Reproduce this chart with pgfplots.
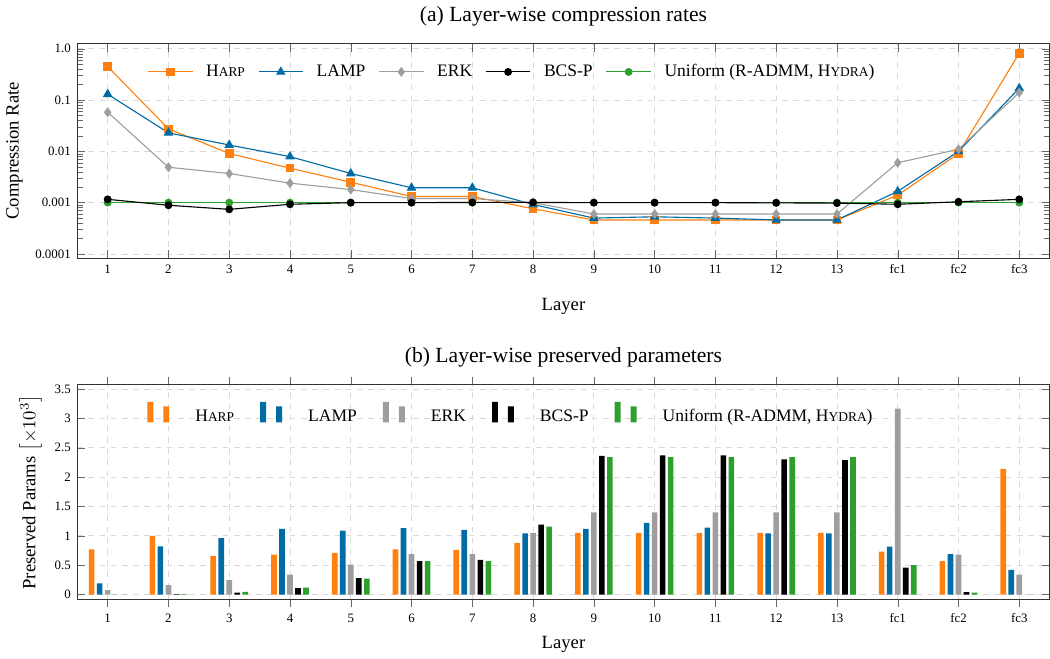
\documentclass[border=0pt]{standalone}
\usepackage{fontspec}
\setmainfont{Liberation Serif}
\usepackage{pgfplots}
\pgfplotsset{compat=1.18}
\definecolor{cOr}{HTML}{FF800E}
\definecolor{cBl}{HTML}{006BA4}
\definecolor{cGr}{HTML}{9E9E9E}
\definecolor{cGn}{HTML}{2CA02C}
\newcommand{\fsc}[2]{#1{\fontsize{7.2}{8}\selectfont #2}}

\pgfplotsset{
  common/.style={
    scale only axis, width=521.5pt, height=115pt,
    xmin=0.5, xmax=16.5,
    xtick={1,...,16},
    xticklabels={1,2,3,4,5,6,7,8,9,10,11,12,13,fc1,fc2,fc3},
    grid=major,
    major grid style={dashed, gray!30},
    axis line style={black!80},
    tick style={black!60},
    /pgf/number format/assume math mode=true,
    tick label style={font=\fontsize{6.9}{8}\selectfont},
    label style={font=\fontsize{10}{12}\selectfont},
    title style={font=\fontsize{11.6}{13}\selectfont},
    xlabel={Layer},
    legend style={draw=none, fill=none, font=\fontsize{9.4}{11}\selectfont},
  }
}

\begin{document}
\begin{tikzpicture}
\begin{axis}[common,
  title={(a) Layer-wise compression rates},
  xlabel style={yshift=-6pt},
  ymode=log, ymin=8.3e-5, ymax=1.26,
  ytick={1e-4,1e-3,1e-2,1e-1,1},
  yticklabels={0.0001,0.001,0.01,0.1,1.0},
  ylabel={Compression Rate},
  legend columns=5,
  legend style={at={(0.066,0.94)}, anchor=north west,
    /tikz/every odd column/.append style={column sep=5pt},
    /tikz/every even column/.append style={column sep=5pt}},
  legend image code/.code={\draw[mark repeat=2,mark phase=2,#1] plot coordinates {(0cm,0cm) (0.42cm,0cm) (0.84cm,0cm)};},
]
\addplot[cOr, line width=0.6pt, mark=square*, mark size=2pt] coordinates {
 (1,0.45) (2,0.0275) (3,0.0091) (4,0.0047) (5,0.0025) (6,0.00132) (7,0.00132) (8,0.00076)
 (9,0.00046) (10,0.00046) (11,0.00046) (12,0.00046) (13,0.00046) (14,0.0014) (15,0.0091) (16,0.82)};
\addlegendentry{\fsc{H}{ARP}}
\addplot[cBl, line width=0.6pt, mark=triangle*, mark size=2.4pt] coordinates {
 (1,0.13) (2,0.023) (3,0.0133) (4,0.0079) (5,0.0037) (6,0.00195) (7,0.00195) (8,0.00092)
 (9,0.0005) (10,0.00053) (11,0.0005) (12,0.00046) (13,0.00046) (14,0.00166) (15,0.0100) (16,0.17)};
\addlegendentry{LAMP}
\addplot[cGr, line width=0.6pt, mark=diamond*, mark size=2.2pt] coordinates {
 (1,0.058) (2,0.0049) (3,0.0037) (4,0.0024) (5,0.0018) (6,0.0012) (7,0.0012) (8,0.001)
 (9,0.0006) (10,0.0006) (11,0.0006) (12,0.0006) (13,0.0006) (14,0.006) (15,0.011) (16,0.14)};
\addlegendentry{ERK}
\addplot[cGn, line width=0.6pt, mark=*, mark size=1.8pt, forget plot] coordinates {
 (1,0.001) (2,0.001) (3,0.001) (4,0.001) (5,0.001) (6,0.001) (7,0.001) (8,0.001)
 (9,0.001) (10,0.001) (11,0.001) (12,0.001) (13,0.001) (14,0.001) (15,0.001) (16,0.001)};
\addplot[black, line width=0.6pt, mark=*, mark size=1.8pt] coordinates {
 (1,0.00116) (2,0.00089) (3,0.00074) (4,0.00093) (5,0.001) (6,0.001) (7,0.00101) (8,0.00101)
 (9,0.001) (10,0.001) (11,0.001) (12,0.00099) (13,0.00098) (14,0.00093) (15,0.00104) (16,0.00116)};
\addlegendentry{BCS-P}
\addlegendimage{cGn, line width=0.6pt, mark=*, mark size=1.8pt}
\addlegendentry{Uniform (R-ADMM, \fsc{H}{YDRA})}
\end{axis}

\begin{axis}[common, at={(0pt,-183pt)},
  title={(b) Layer-wise preserved parameters},
  ymin=-0.08, ymax=3.57,
  ytick={0,0.5,...,3.5},
  yticklabels={0,0.5,1,1.5,2,2.5,3,3.5},
  ylabel={Preserved Params $\left[\times 10^{3}\right]$},
  ybar=1.3pt, bar width=3pt,
  legend columns=5,
  legend style={at={(0.066,0.94)}, anchor=north west,
    /tikz/every odd column/.append style={column sep=12pt},
    /tikz/every even column/.append style={column sep=12pt}},
  legend image code/.code={\draw[#1,draw=none,/tikz/.cd,bar width=3.2pt,yshift=-0.3em,bar shift=0pt] plot coordinates {(0pt,1.1em) (8.5pt,0.85em)};},
]
\addplot[fill=cOr, draw=none] coordinates {
 (1,0.77) (2,1.0) (3,0.66) (4,0.68) (5,0.71) (6,0.77) (7,0.76) (8,0.88)
 (9,1.05) (10,1.05) (11,1.05) (12,1.05) (13,1.05) (14,0.73) (15,0.57) (16,2.14)};
\addlegendentry{\fsc{H}{ARP}}
\addplot[fill=cBl, draw=none] coordinates {
 (1,0.19) (2,0.82) (3,0.96) (4,1.12) (5,1.09) (6,1.13) (7,1.10) (8,1.04)
 (9,1.12) (10,1.22) (11,1.14) (12,1.04) (13,1.04) (14,0.815) (15,0.69) (16,0.42)};
\addlegendentry{LAMP}
\addplot[fill=cGr, draw=none] coordinates {
 (1,0.074) (2,0.16) (3,0.25) (4,0.34) (5,0.51) (6,0.69) (7,0.69) (8,1.05)
 (9,1.40) (10,1.40) (11,1.40) (12,1.40) (13,1.40) (14,3.165) (15,0.68) (16,0.34)};
\addlegendentry{ERK}
\addplot[fill=black, draw=none] coordinates {
 (1,0) (2,0.01) (3,0.034) (4,0.11) (5,0.28) (6,0.57) (7,0.59) (8,1.19)
 (9,2.36) (10,2.37) (11,2.37) (12,2.30) (13,2.29) (14,0.46) (15,0.04) (16,0)};
\addlegendentry{BCS-P}
\addplot[fill=cGn, draw=none] coordinates {
 (1,0) (2,0.01) (3,0.045) (4,0.12) (5,0.27) (6,0.57) (7,0.57) (8,1.155)
 (9,2.34) (10,2.34) (11,2.34) (12,2.34) (13,2.34) (14,0.50) (15,0.035) (16,0)};
\addlegendentry{Uniform (R-ADMM, \fsc{H}{YDRA})}
\end{axis}
\end{tikzpicture}
\end{document}
